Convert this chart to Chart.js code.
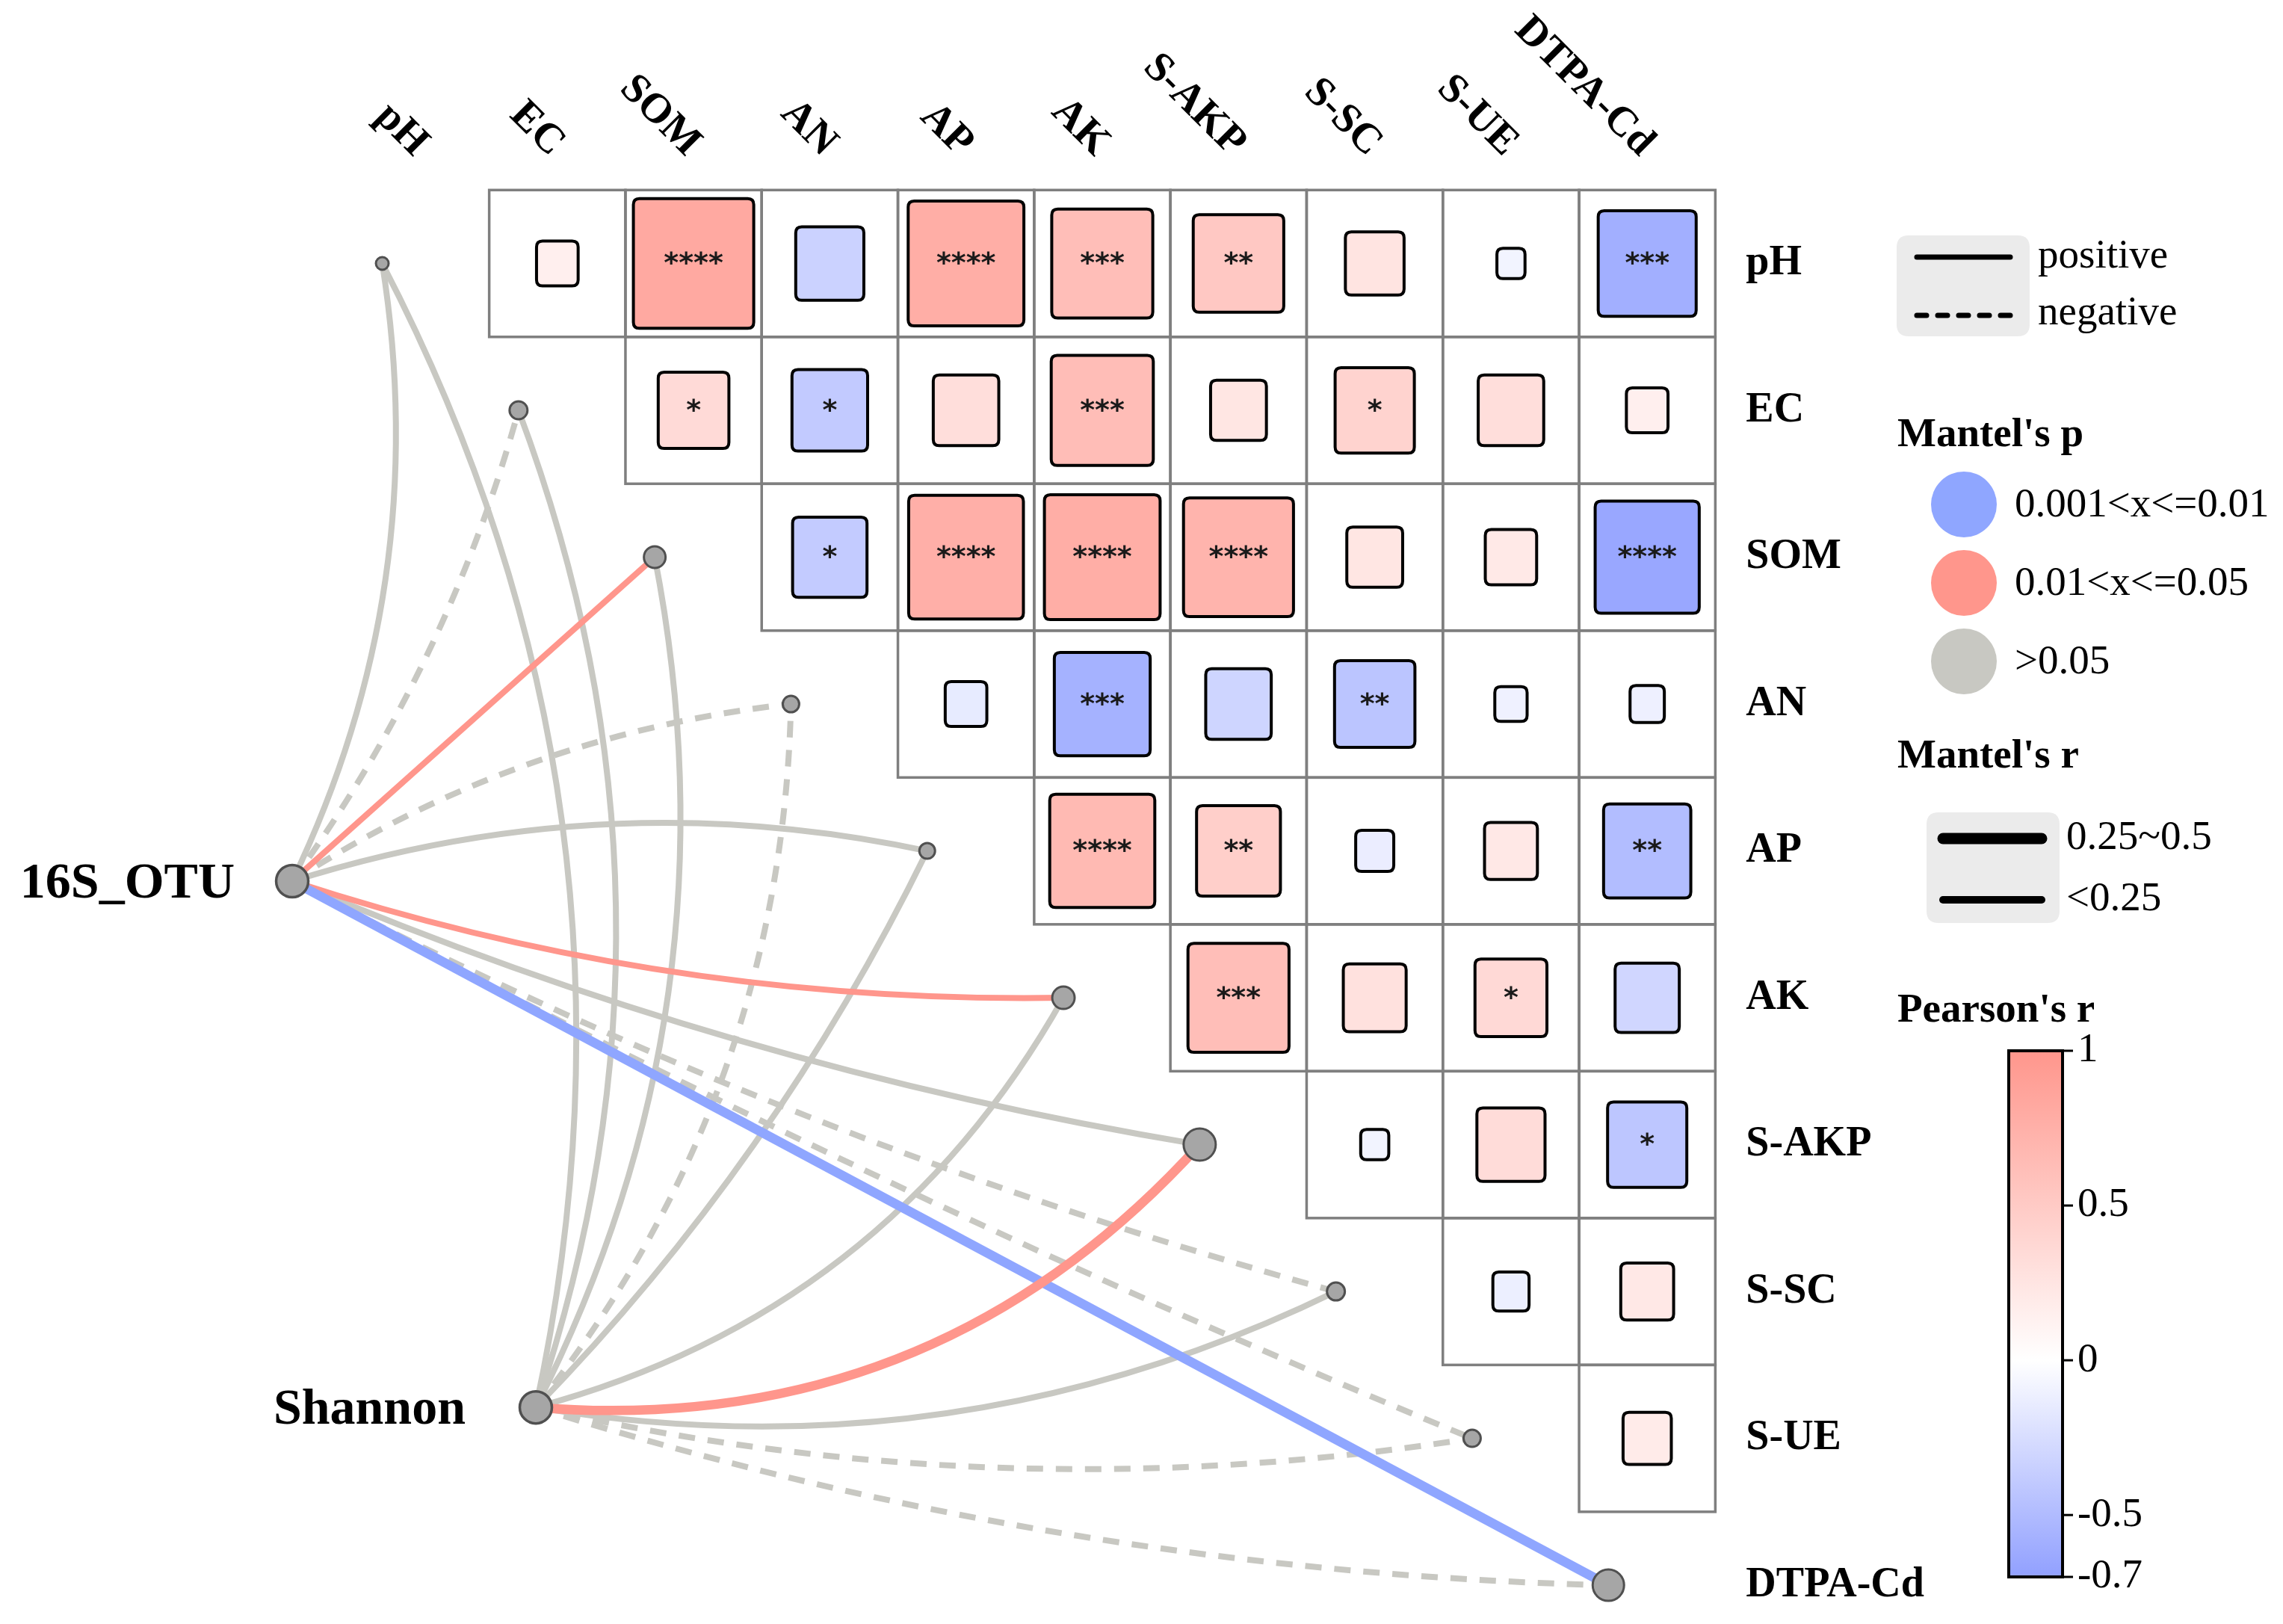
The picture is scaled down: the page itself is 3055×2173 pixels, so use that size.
<!DOCTYPE html>
<html>
<head>
<meta charset="utf-8">
<script src="https://cdn.jsdelivr.net/npm/chart.js@4.4.1/dist/chart.umd.min.js"></script>
<style>
  html, body { margin: 0; padding: 0; background: #fff; }
  canvas { display: block; }
</style>
</head>
<body>
<canvas id="mantel" width="3055" height="2173"></canvas>
<script>
const envVars = ['pH', 'EC', 'SOM', 'AN', 'AP', 'AK', 'S-AKP', 'S-SC', 'S-UE', 'DTPA-Cd'];

// Pearson's r between soil factors, upper triangle (row i -> columns i+1..9)
const pearsonR = [
  [0.15, 0.82, -0.33, 0.77, 0.62, 0.52, 0.26, -0.08, -0.59],
  [0.35, -0.39, 0.31, 0.63, 0.24, 0.42, 0.31, 0.15],
  [-0.38, 0.76, 0.77, 0.71, 0.24, 0.21, -0.65],
  [-0.15, -0.57, -0.31, -0.43, -0.10, -0.11],
  [0.66, 0.46, -0.13, 0.22, -0.49],
  [0.62, 0.29, 0.36, -0.30],
  [-0.08, 0.33, -0.42],
  [-0.12, 0.22],
  [0.19]
];
const pearsonSig = [
  ['', '****', '', '****', '***', '**', '', '', '***'],
  ['*', '*', '', '***', '', '*', '', ''],
  ['*', '****', '****', '****', '', '', '****'],
  ['', '***', '', '**', '', ''],
  ['****', '**', '', '', '**'],
  ['***', '', '*', ''],
  ['', '', '*'],
  ['', ''],
  ['']
];

// Mantel test, one entry per soil factor
const specNames = ['16S_OTU', 'Shannon'];
const otuP = ['>0.05', '>0.05', '0.01<x<=0.05', '>0.05', '>0.05', '0.01<x<=0.05', '>0.05', '>0.05', '>0.05', '0.001<x<=0.01'];
const otuR = ['<0.25', '<0.25', '<0.25', '<0.25', '<0.25', '<0.25', '<0.25', '<0.25', '<0.25', '0.25~0.5'];
const otuSign = ['positive', 'negative', 'positive', 'negative', 'positive', 'positive', 'positive', 'negative', 'negative', 'positive'];
const shannonP = ['>0.05', '>0.05', '>0.05', '>0.05', '>0.05', '>0.05', '0.01<x<=0.05', '>0.05', '>0.05', '>0.05'];
const shannonR = ['<0.25', '<0.25', '<0.25', '<0.25', '<0.25', '<0.25', '0.25~0.5', '<0.25', '<0.25', '<0.25'];
const shannonSign = ['positive', 'positive', 'positive', 'negative', 'positive', 'positive', 'positive', 'positive', 'negative', 'negative'];

const pLevels = ['0.001<x<=0.01', '0.01<x<=0.05', '>0.05'];
const rLevels = ['0.25~0.5', '<0.25'];
const cbTicks = [1, 0.5, 0, -0.5, -0.7];

// ---- styles / layout ----
const pColors = { '0.001<x<=0.01': '#8FA6FF', '0.01<x<=0.05': '#FF968C', '>0.05': '#C8C8C2' };
const rWidths = { '0.25~0.5': 12.5, '<0.25': 8 };
const nodeRadius = [8.5, 12, 14.5, 11, 10.5, 15, 21.5, 12, 11.5, 21];
const specPos = [{ x: -0.946, y: 4.206 }, { x: 0.842, y: 7.789 }];
const specLabelGap = [77, 94];
// curve bow (fraction of chord length, + = to the right going spec -> factor)
const otuBend = [0.078, 0.045, 0, -0.059, -0.066, 0.042, 0.03, 0.027, 0.013, 0];
const shannonBend = [0.09, 0.089, 0.086, 0.084, 0.04, 0.105, 0.123, 0.08, 0.048, 0.035];

const SERIF = '"Liberation Serif", "Times New Roman", serif';
const HI = [255, 150, 140], LO = [145, 160, 255];

function rColor(v) {
    const t = v >= 0 ? Math.min(v, 1) : Math.min(-v / 0.7, 1);
    const c = v >= 0 ? HI : LO;
    const m = (k) => Math.round(255 + (c[k] - 255) * t);
    return 'rgb(' + m(0) + ', ' + m(1) + ', ' + m(2) + ')';
}

function rrect(ctx, x, y, w, h, r) {
    r = Math.min(r, w / 2, h / 2);
    ctx.beginPath();
    ctx.moveTo(x + r, y);
    ctx.lineTo(x + w - r, y);
    ctx.quadraticCurveTo(x + w, y, x + w, y + r);
    ctx.lineTo(x + w, y + h - r);
    ctx.quadraticCurveTo(x + w, y + h, x + w - r, y + h);
    ctx.lineTo(x + r, y + h);
    ctx.quadraticCurveTo(x, y + h, x, y + h - r);
    ctx.lineTo(x, y + r);
    ctx.quadraticCurveTo(x, y, x + r, y);
    ctx.closePath();
}

// cells dataset built from the triangle arrays
const cellData = [];
pearsonR.forEach((row, i) => {
    row.forEach((v, k) => {
        cellData.push({ x: i + 1 + k, y: i, v: v, sig: pearsonSig[i][k] });
    });
});
const envNodeData = envVars.map((n, j) => ({ x: j - 0.285, y: j }));

const cellPlugin = {
    id: 'cells',
    beforeDatasetsDraw(chart) {
        const ctx = chart.ctx;
        const xs = chart.scales.x, ys = chart.scales.y;
        const cw = xs.getPixelForValue(1) - xs.getPixelForValue(0);
        const ch = ys.getPixelForValue(1) - ys.getPixelForValue(0);
        const meta = chart.getDatasetMeta(0);
        ctx.save();
        // grid
        ctx.strokeStyle = '#7F7F7F';
        ctx.lineWidth = 3.5;
        meta.data.forEach((el) => {
            ctx.strokeRect(el.x - cw / 2, el.y - ch / 2, cw, ch);
        });
        // squares
        meta.data.forEach((el, i) => {
            const d = cellData[i];
            const s = Math.pow(Math.abs(d.v), 0.625);
            const w = cw * s, h = ch * s;
            rrect(ctx, el.x - w / 2, el.y - h / 2, w, h, 8);
            ctx.fillStyle = rColor(d.v);
            ctx.fill();
            ctx.strokeStyle = '#000';
            ctx.lineWidth = 4;
            ctx.stroke();
            if (d.sig) {
                ctx.fillStyle = '#1a1a1a';
                ctx.font = 'bold 38px "DejaVu Sans"';
                ctx.textAlign = 'center';
                ctx.textBaseline = 'middle';
                ctx.fillText(d.sig, el.x, el.y + 2);
            }
        });
        ctx.restore();
    }
};

const linkPlugin = {
    id: 'links',
    beforeDatasetsDraw(chart) {
        const ctx = chart.ctx;
        const envMeta = chart.getDatasetMeta(1).data;
        const specMeta = chart.getDatasetMeta(2).data;
        const sets = [
            [otuP, otuR, otuSign, otuBend],
            [shannonP, shannonR, shannonSign, shannonBend]
        ];
        const links = [];
        sets.forEach((set, s) => {
            envVars.forEach((n, j) => {
                links.push({ s: s, j: j, p: set[0][j], r: set[1][j], sign: set[2][j], bend: set[3][j] });
            });
        });
        // grey ones underneath
        links.sort((a, b) => (a.p === '>0.05' ? 0 : 1) - (b.p === '>0.05' ? 0 : 1));
        ctx.save();
        links.forEach((l) => {
            const a = specMeta[l.s], b = envMeta[l.j];
            const dx = b.x - a.x, dy = b.y - a.y;
            const cx = (a.x + b.x) / 2 - 2 * l.bend * dy;
            const cy = (a.y + b.y) / 2 + 2 * l.bend * dx;
            ctx.beginPath();
            ctx.moveTo(a.x, a.y);
            ctx.quadraticCurveTo(cx, cy, b.x, b.y);
            ctx.strokeStyle = pColors[l.p];
            ctx.lineWidth = rWidths[l.r];
            ctx.lineCap = 'butt';
            ctx.setLineDash(l.sign === 'negative' ? [22, 17] : []);
            ctx.stroke();
        });
        ctx.restore();
    }
};

const labelPlugin = {
    id: 'labels',
    afterDraw(chart) {
        const ctx = chart.ctx;
        const xs = chart.scales.x, ys = chart.scales.y;
        const gridTop = ys.getPixelForValue(-0.5);
        const gridRight = xs.getPixelForValue(9.5);
        ctx.save();
        ctx.fillStyle = '#000';
        // column labels
        ctx.font = 'bold 56px ' + SERIF;
        envVars.forEach((n, k) => {
            ctx.save();
            ctx.translate(xs.getPixelForValue(k), gridTop - 54);
            ctx.rotate(Math.PI / 4);
            ctx.textAlign = 'right';
            ctx.textBaseline = 'middle';
            ctx.fillText(n, 0, 0);
            ctx.restore();
        });
        // row labels
        ctx.textAlign = 'left';
        ctx.textBaseline = 'middle';
        envVars.forEach((n, j) => {
            ctx.fillText(n, gridRight + 41, ys.getPixelForValue(j));
        });
        // spec labels
        const specMeta = chart.getDatasetMeta(2).data;
        ctx.font = 'bold 68px ' + SERIF;
        ctx.textAlign = 'right';
        specNames.forEach((n, s) => {
            ctx.fillText(n, specMeta[s].x - specLabelGap[s], specMeta[s].y + 4);
        });

        // ---- legend: line type ----
        ctx.fillStyle = '#EBEBEB';
        rrect(ctx, 2538, 315, 178, 135, 16);
        ctx.fill();
        ctx.strokeStyle = '#000';
        ctx.lineCap = 'round';
        ctx.lineWidth = 7;
        ctx.beginPath(); ctx.moveTo(2565, 344); ctx.lineTo(2690, 344); ctx.stroke();
        ctx.setLineDash([13, 15]);
        ctx.beginPath(); ctx.moveTo(2565, 422); ctx.lineTo(2690, 422); ctx.stroke();
        ctx.setLineDash([]);
        ctx.fillStyle = '#000';
        ctx.font = '55px ' + SERIF;
        ctx.textAlign = 'left';
        ctx.textBaseline = 'middle';
        ctx.fillText('positive', 2727, 344);
        ctx.fillText('negative', 2727, 420);

        // ---- legend: Mantel's p ----
        ctx.font = 'bold 55px ' + SERIF;
        ctx.textBaseline = 'alphabetic';
        ctx.fillText("Mantel's p", 2539, 597);
        ctx.textBaseline = 'middle';
        pLevels.forEach((lv, i) => {
            const cy = 675 + i * 105;
            ctx.beginPath();
            ctx.arc(2628, cy, 44, 0, Math.PI * 2);
            ctx.fillStyle = pColors[lv];
            ctx.fill();
            ctx.fillStyle = '#000';
            ctx.font = '55px ' + SERIF;
            ctx.fillText(lv, 2696, cy + 2);
        });

        // ---- legend: Mantel's r ----
        ctx.font = 'bold 55px ' + SERIF;
        ctx.textBaseline = 'alphabetic';
        ctx.fillText("Mantel's r", 2539, 1027);
        ctx.fillStyle = '#EBEBEB';
        rrect(ctx, 2578, 1087, 178, 148, 16);
        ctx.fill();
        ctx.strokeStyle = '#000';
        ctx.lineCap = 'round';
        rLevels.forEach((lv, i) => {
            const yy = 1122 + i * 82;
            ctx.lineWidth = lv === '0.25~0.5' ? 15 : 10;
            ctx.beginPath(); ctx.moveTo(2600, yy); ctx.lineTo(2732, yy); ctx.stroke();
            ctx.fillStyle = '#000';
            ctx.font = '55px ' + SERIF;
            ctx.textBaseline = 'middle';
            ctx.fillText(lv, 2765, yy);
        });

        // ---- legend: Pearson's r colour bar ----
        ctx.font = 'bold 55px ' + SERIF;
        ctx.textBaseline = 'middle';
        ctx.fillText("Pearson's r", 2539, 1353);
        const bTop = 1406, bBot = 2110, bL = 2688, bR = 2760;
        const vMax = cbTicks[0], vMin = cbTicks[cbTicks.length - 1];
        const yOf = (v) => bTop + (vMax - v) / (vMax - vMin) * (bBot - bTop);
        const g = ctx.createLinearGradient(0, bTop, 0, bBot);
        g.addColorStop(0, rColor(vMax));
        g.addColorStop((vMax - 0) / (vMax - vMin), rColor(0));
        g.addColorStop(1, rColor(vMin));
        ctx.fillStyle = g;
        ctx.fillRect(bL, bTop, bR - bL, bBot - bTop);
        ctx.lineWidth = 4;
        ctx.lineCap = 'butt';
        ctx.strokeStyle = '#000';
        ctx.strokeRect(bL, bTop, bR - bL, bBot - bTop);
        ctx.fillStyle = '#000';
        ctx.font = '55px ' + SERIF;
        cbTicks.forEach((t) => {
            const yy = yOf(t);
            ctx.lineWidth = 3;
            ctx.beginPath(); ctx.moveTo(bR, yy); ctx.lineTo(bR + 14, yy); ctx.stroke();
            ctx.fillText(String(t), 2780, yy);
        });
        ctx.restore();
    }
};

new Chart(document.getElementById('mantel'), {
    type: 'scatter',
    data: {
        datasets: [
            {
                label: 'cells',
                data: cellData,
                pointRadius: 0,
                pointHoverRadius: 0
            },
            {
                label: 'factors',
                data: envNodeData,
                pointRadius: nodeRadius,
                backgroundColor: '#A6A6A6',
                borderColor: '#505050',
                borderWidth: 3
            },
            {
                label: 'specs',
                data: specPos,
                pointRadius: 21.5,
                backgroundColor: '#A6A6A6',
                borderColor: '#505050',
                borderWidth: 3.5
            }
        ]
    },
    options: {
        responsive: false,
        devicePixelRatio: 1,
        animation: false,
        layout: { padding: 0, autoPadding: false },
        scales: {
            x: { type: 'linear', min: -3.091, max: 13.667, display: false },
            y: { type: 'linear', min: -1.794, max: 9.264, reverse: true, display: false }
        },
        plugins: {
            legend: { display: false },
            tooltip: { enabled: false }
        }
    },
    plugins: [cellPlugin, linkPlugin, labelPlugin]
});
</script>
</body>
</html>
